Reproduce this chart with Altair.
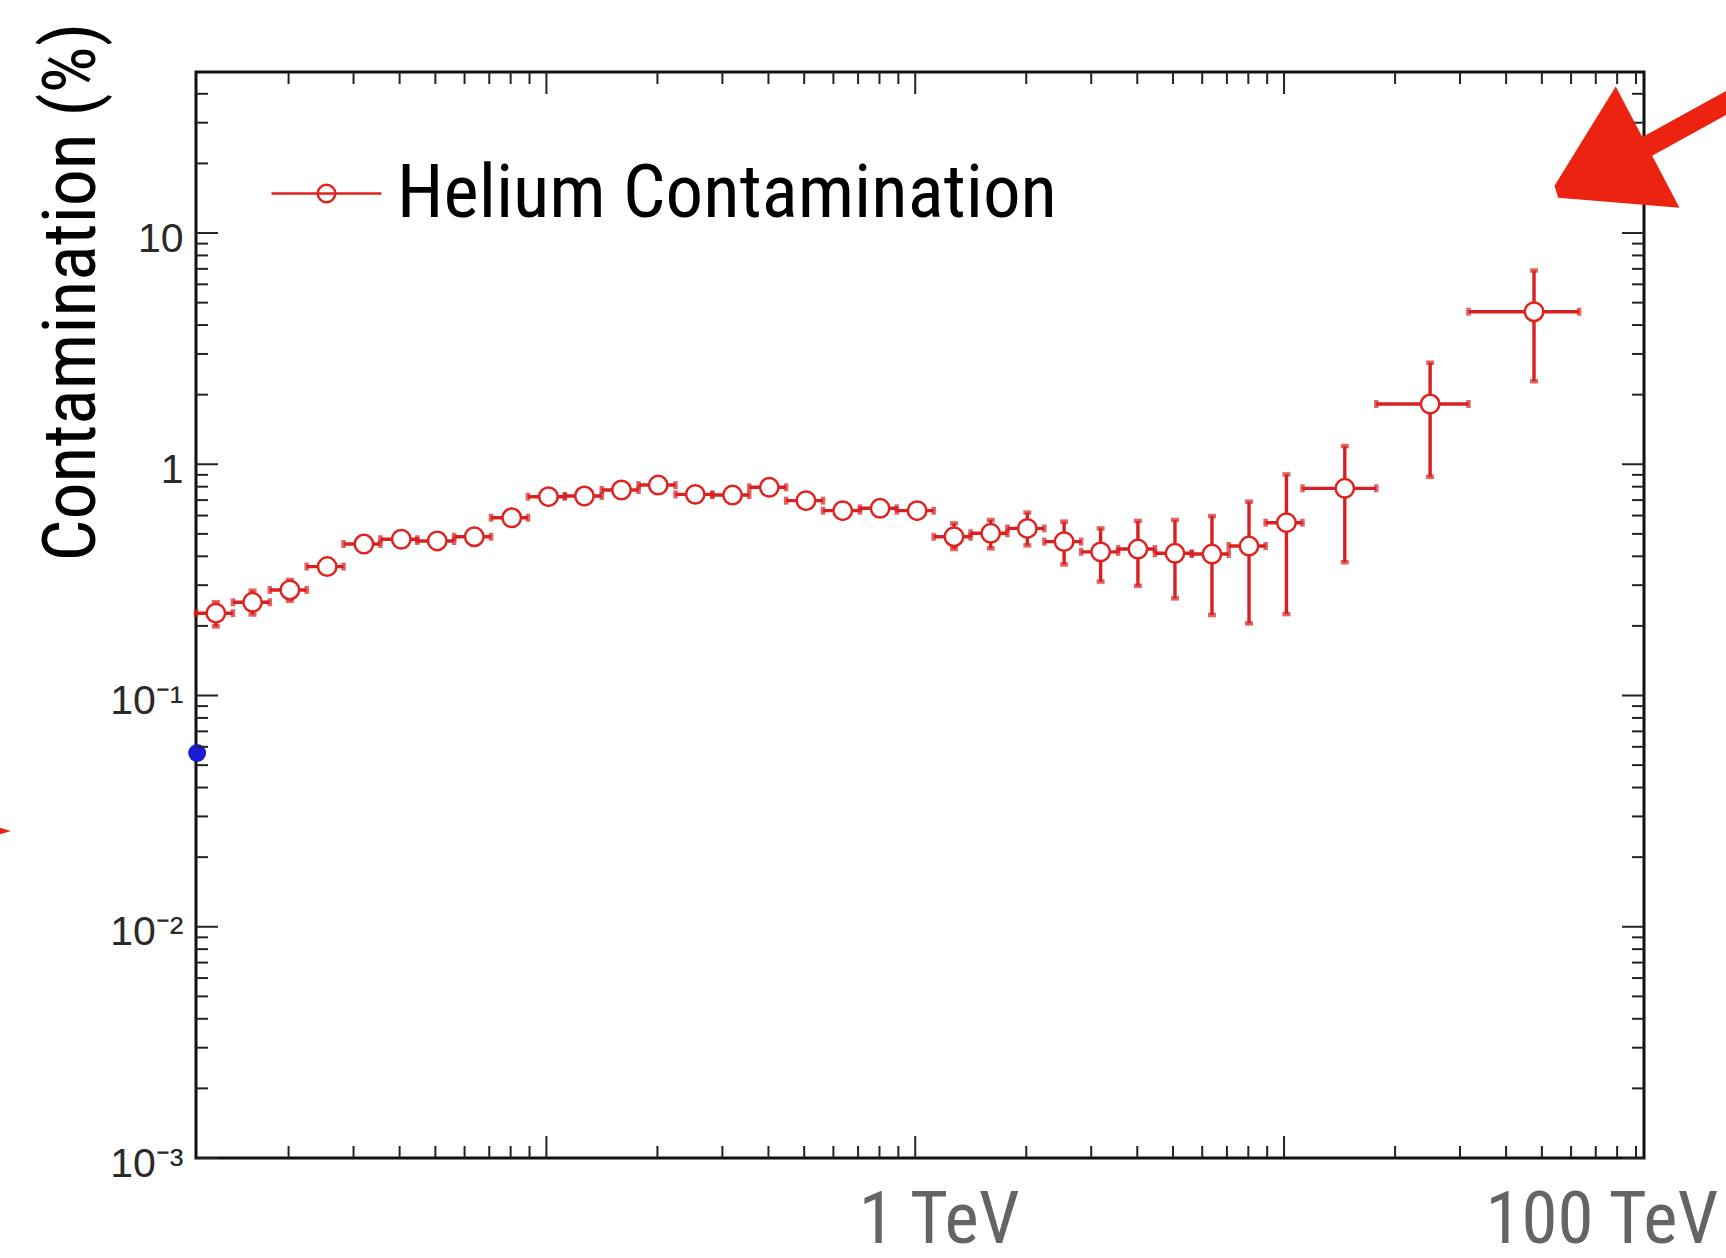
import json
import altair as alt
import pandas as pd

# ---------------- data ----------------
series_name = "Helium Contamination"

energy = [12.70, 15.97, 20.16, 25.45, 32.01, 40.42, 50.60, 63.76, 80.55, 101.3,
          126.8, 159.8, 201.0, 253.3, 319.7, 402.1, 505.6, 635.9, 803.0, 1012,
          1274, 1602, 2013, 2533, 3182, 4016, 5061, 6376, 8035, 10150,
          14610, 24890, 47610]
bin_lo = [11.22, 14.13, 17.78, 22.39, 28.18, 35.48, 44.67, 56.23, 70.79, 89.13,
          112.2, 141.3, 177.8, 223.9, 281.8, 354.8, 446.7, 562.3, 707.9, 891.3,
          1122, 1413, 1778, 2239, 2818, 3548, 4467, 5623, 7079, 8913,
          11220, 17780, 31620]
bin_hi = [14.13, 17.78, 22.39, 28.18, 35.48, 44.67, 56.23, 70.79, 89.13, 112.2,
          141.3, 177.8, 223.9, 281.8, 354.8, 446.7, 562.3, 707.9, 891.3, 1122,
          1413, 1778, 2239, 2818, 3548, 4467, 5623, 7079, 8913, 11220,
          17780, 31620, 63100]
value = [0.227, 0.253, 0.286, 0.361, 0.452, 0.474, 0.466, 0.486, 0.587, 0.724,
         0.729, 0.774, 0.813, 0.741, 0.736, 0.795, 0.696, 0.630, 0.645, 0.630,
         0.486, 0.503, 0.528, 0.463, 0.418, 0.430, 0.412, 0.409, 0.443, 0.559,
         0.787, 1.822, 4.567]
value_lo = [0.199, 0.224, 0.257, 0.340, 0.430, 0.451, 0.443, 0.462, 0.558, 0.695,
            0.700, 0.744, 0.782, 0.712, 0.707, 0.756, 0.662, 0.593, 0.608, 0.587,
            0.430, 0.433, 0.446, 0.369, 0.311, 0.298, 0.263, 0.223, 0.205, 0.225,
            0.377, 0.883, 2.287]
value_hi = [0.253, 0.284, 0.316, 0.383, 0.475, 0.498, 0.490, 0.511, 0.617, 0.753,
            0.758, 0.805, 0.846, 0.771, 0.766, 0.835, 0.731, 0.668, 0.684, 0.675,
            0.555, 0.574, 0.618, 0.565, 0.528, 0.569, 0.574, 0.597, 0.689, 0.904,
            1.199, 2.749, 6.885]

# stray blue point at the left edge of the frame
blue_energy = [11.3]
blue_value = [0.0564]

# axis ticks and labels
x_domain = [11.22, 94600]
y_domain = [0.001, 49.7]
x_major_ticks = [100, 1000, 10000]
x_minor_ticks = [20, 30, 40, 50, 60, 70, 80, 90,
                 200, 300, 400, 500, 600, 700, 800, 900,
                 2000, 3000, 4000, 5000, 6000, 7000, 8000, 9000,
                 20000, 30000, 40000, 50000, 60000, 70000, 80000, 90000]
y_major_ticks = [0.001, 0.01, 0.1, 1, 10]
y_tick_labels = ["10⁻³", "10⁻²", "10⁻¹", "1", "10"]
y_minor_ticks = [0.002, 0.003, 0.004, 0.005, 0.006, 0.007, 0.008, 0.009,
                 0.02, 0.03, 0.04, 0.05, 0.06, 0.07, 0.08, 0.09,
                 0.2, 0.3, 0.4, 0.5, 0.6, 0.7, 0.8, 0.9,
                 2, 3, 4, 5, 6, 7, 8, 9,
                 20, 30, 40]
x_note_energy = [1000, 100000]
x_note_text = ["1 TeV", "100 TeV"]
y_title = "Contamination (%)"

# ---------------- styling ----------------
W, H = 1448, 1086
RED = "#e0231f"
BAR_RED = "#d82020"
ARROW_RED = "#eb2310"
BLUE = "#1b1bd6"
TICK = "#222222"
NARROW = "'Roboto Condensed', 'Liberation Sans Narrow', Roboto, sans-serif"
SANS = "'Liberation Sans', Arial, sans-serif"

df = pd.DataFrame({
    "energy": energy, "bin_lo": bin_lo, "bin_hi": bin_hi,
    "value": value, "value_lo": value_lo, "value_hi": value_hi,
    "series": [series_name] * len(energy),
})

xs = alt.Scale(type="log", domain=x_domain, nice=False)
ys = alt.Scale(type="log", domain=y_domain, nice=False)

label_expr = (f"{json.dumps(y_tick_labels, ensure_ascii=False)}"
              f"[indexof({json.dumps(y_major_ticks)}, datum.value)]")

y_axis = alt.Axis(
    values=y_major_ticks, labelExpr=label_expr, ticks=False, tickSize=0,
    domain=False, grid=False, labelPadding=13, labelOffset=6,
    labelFont=SANS, labelFontSize=41, labelColor="#2a2a2a",
    title=y_title, titleFont=NARROW, titleFontSize=74, titleFontWeight="normal",
    titleColor="black", titleAngle=270, titleAlign="left",
    titleBaseline="alphabetic", titleX=-102, titleY=489,
)

X = lambda f: alt.X(f, type="quantitative", scale=xs, axis=None)
Y = lambda f: alt.Y(f, type="quantitative", scale=ys, axis=y_axis)

base = alt.Chart(df)

hbars = base.mark_rule(color=BAR_RED, strokeWidth=3.4).encode(
    x=X("bin_lo"), x2="bin_hi", y=Y("value"))
vbars = base.mark_rule(color=BAR_RED, strokeWidth=3.4).encode(
    x=X("energy"), y=Y("value_lo"), y2="value_hi")
cap = dict(color=BAR_RED, size=8, thickness=4.5)
hcap_lo = base.mark_tick(orient="vertical", **cap).encode(x=X("bin_lo"), y=Y("value"))
hcap_hi = base.mark_tick(orient="vertical", **cap).encode(x=X("bin_hi"), y=Y("value"))
vcap_lo = base.mark_tick(orient="horizontal", **cap).encode(x=X("energy"), y=Y("value_lo"))
vcap_hi = base.mark_tick(orient="horizontal", **cap).encode(x=X("energy"), y=Y("value_hi"))

legend_symbol = ("M-1,0 L1,0 M0.16,0 A0.16,0.16 0 1,1 -0.16,0 "
                 "A0.16,0.16 0 1,1 0.16,0 Z")
points = base.mark_point(shape="circle", size=340, filled=False, fill="white",
                         strokeWidth=2.5, opacity=1).encode(
    x=X("energy"),
    y=Y("value"),
    color=alt.Color("series:N",
                    scale=alt.Scale(domain=[series_name], range=[RED]),
                    legend=alt.Legend(
                        title=None, orient="none", legendX=74, legendY=65,
                        padding=0, symbolType=legend_symbol, symbolSize=12100,
                        symbolStrokeWidth=2.5, labelFont=NARROW,
                        labelFontSize=75, labelColor="black", labelOffset=14,
                        labelLimit=2000)),
)

blue = alt.Chart(pd.DataFrame({"e": blue_energy, "v": blue_value})).mark_point(
    filled=True, color=BLUE, size=320, opacity=1).encode(x=X("e"), y=Y("v"))


def xticks(vals, length, top):
    d = pd.DataFrame({"v": vals})
    y1, y2 = (0, length) if top else (H, H - length)
    return alt.Chart(d).mark_rule(color=TICK, strokeWidth=2).encode(
        x=X("v"), y=alt.value(y1), y2=alt.value(y2))


def yticks(vals, length, right):
    d = pd.DataFrame({"v": vals})
    x1, x2 = (W, W - length) if right else (0, length)
    return alt.Chart(d).mark_rule(color=TICK, strokeWidth=2).encode(
        y=Y("v"), x=alt.value(x1), x2=alt.value(x2))


tick_layers = [
    xticks(x_major_ticks, 22, False), xticks(x_minor_ticks, 12, False),
    xticks(x_major_ticks, 22, True), xticks(x_minor_ticks, 12, True),
    yticks(y_major_ticks, 22, False), yticks(y_minor_ticks, 12, False),
    yticks(y_major_ticks, 22, True), yticks(y_minor_ticks, 12, True),
]

notes = []
for e, t, dx in zip(x_note_energy, x_note_text, [24, -51]):
    notes.append(
        alt.Chart(pd.DataFrame({"e": [e], "t": [t]})).mark_text(
            font=NARROW, fontSize=73, color="#646464", align="center",
            baseline="alphabetic", dx=dx).encode(
            x=X("e"), y=alt.value(1171), text="t:N"))

# hand-drawn red arrow annotations
one = pd.DataFrame({"a": [0]})
arrow_tail = alt.Chart(one).mark_rule(color=ARROW_RED, strokeWidth=21, strokeCap="round").encode(
    x=alt.value(1452), x2=alt.value(1570), y=alt.value(74), y2=alt.value(9))
arrow_head = alt.Chart(one).mark_point(
    shape="M-0.02,-0.97 L1,0.97 L-0.94,0.81 L-1,0.62 Z", size=15625,
    filled=True, color=ARROW_RED, opacity=1).encode(
    x=alt.value(1421), y=alt.value(75))
left_arrow = alt.Chart(one).mark_point(
    shape="M-1,-0.6 L1,0 L-1,0.6 Z", size=484, filled=True,
    color=ARROW_RED, opacity=1).encode(x=alt.value(-196), y=alt.value(759))

chart = alt.layer(
    hbars, vbars, hcap_lo, hcap_hi, vcap_lo, vcap_hi, points, blue,
    *tick_layers, *notes, arrow_tail, arrow_head, left_arrow,
).properties(
    width=W, height=H,
    autosize=alt.AutoSizeParams(type="none"),
    padding={"left": 196, "top": 72, "right": 82, "bottom": 100},
    background="white",
).configure_view(stroke="#111111", strokeWidth=3)

chart.save("out.html", embed_options={"renderer": "svg", "actions": False})
